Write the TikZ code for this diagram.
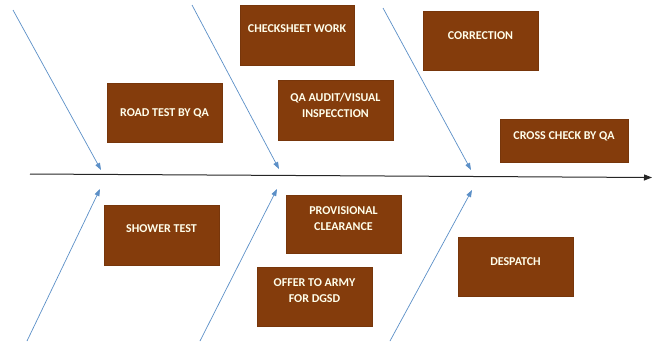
\documentclass[tikz,border=0pt]{standalone}
\usepackage{fontspec}
\setmainfont{Carlito}
\usetikzlibrary{arrows.meta}
\definecolor{boxbrown}{HTML}{843C0C}
\definecolor{bonearrow}{HTML}{5B8FC7}
\tikzset{stagebox/.style = {draw=boxbrown!90!black, fill=boxbrown, rectangle,
  text=white!92!yellow, font=\bfseries\fontsize{12}{16}\selectfont,
  align=center, inner sep=0pt, text height=8pt, text depth=#1},
  stagebox/.default=0pt,
  twoline/.style = {text height=#1, text depth=0pt},
  bone/.style = {draw=bonearrow, line width=0.7pt, -{Triangle[length=7pt,width=5pt]}},
  spine/.style = {draw=black!85, line width=1pt, -{Triangle[length=8pt,width=6pt]}}}

\begin{document}
\begin{tikzpicture}[x=1pt,y=-1pt]
		\useasboundingbox (0,0) rectangle (657,341);
		% upper row
		\node [stagebox, minimum width=115pt, minimum height=59pt] (road) at (164.5,112.5) {ROAD TEST BY QA};
		\node [stagebox=14pt, minimum width=114pt, minimum height=60pt] (check) at (297,35) {CHECKSHEET WORK};
		\node [stagebox, twoline=14pt, minimum width=115pt, minimum height=60pt] (audit) at (335.5,110) {QA AUDIT/VISUAL\\INSPECCTION};
		\node [stagebox=11pt, minimum width=115pt, minimum height=59pt] (corr) at (480.5,40.5) {CORRECTION};
		\node [stagebox=11pt, minimum width=128pt, minimum height=43pt] (cross) at (564,140.5) {CROSS CHECK BY QA};
		% lower row
		\node [stagebox=14pt, minimum width=115pt, minimum height=60pt] (shower) at (161.5,235) {SHOWER TEST};
		\node [stagebox, twoline=12pt, minimum width=115pt, minimum height=58pt] (prov) at (343.5,224) {PROVISIONAL\\CLEARANCE};
		\node [stagebox, twoline=11pt, minimum width=115pt, minimum height=59pt] (offer) at (314.5,296.5) {OFFER TO ARMY\\FOR DGSD};
		\node [stagebox=11pt, minimum width=115pt, minimum height=59pt] (desp) at (515.5,266.5) {DESPATCH};
		% spine
		\coordinate (head) at (652,177.5);
		\coordinate (tail) at (30,174);
		\draw [spine] (tail) -- (head);
		% bones
		\coordinate (u1s) at (13,10);   \coordinate (u1e) at (101,170);
		\coordinate (u2s) at (192,5);   \coordinate (u2e) at (279,169);
		\coordinate (u3s) at (383,8);   \coordinate (u3e) at (471,170);
		\coordinate (l1s) at (27,341);  \coordinate (l1e) at (100,189);
		\coordinate (l2s) at (200,341); \coordinate (l2e) at (277,189);
		\coordinate (l3s) at (390,341); \coordinate (l3e) at (472,190);
		\foreach \s/\e in {u1s/u1e, u2s/u2e, u3s/u3e, l1s/l1e, l2s/l2e, l3s/l3e}
			\draw [bone] (\s) -- (\e);
		\end{tikzpicture}
\end{document}
